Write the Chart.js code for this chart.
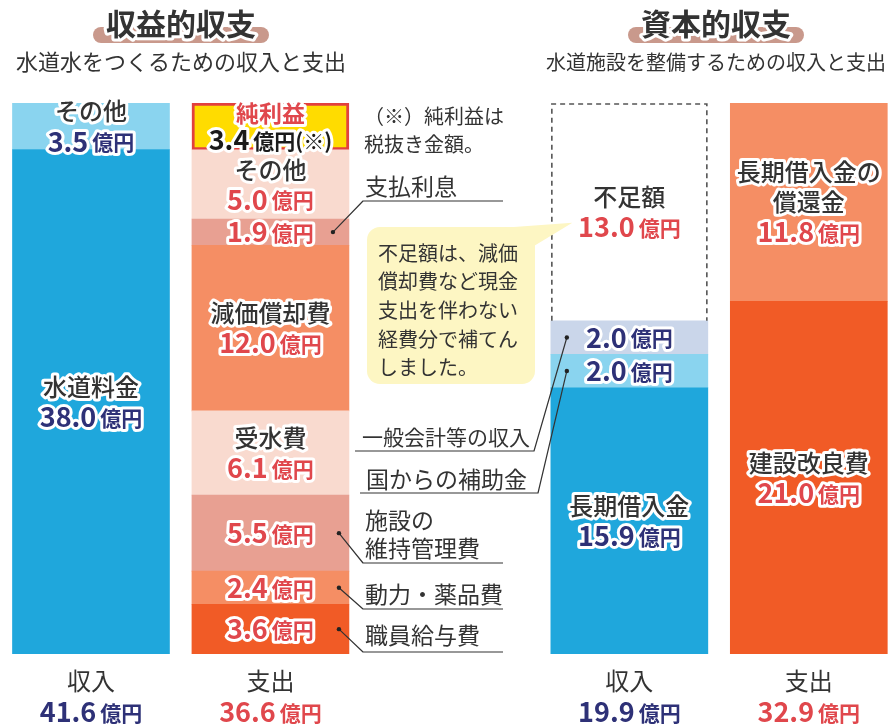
<!DOCTYPE html>
<html lang="ja">
<head>
<meta charset="utf-8">
<title>収益的収支・資本的収支</title>
<script src="https://cdn.jsdelivr.net/npm/chart.js"></script>
<style>
  html, body { margin: 0; padding: 0; background: #fff; }
  #wrap { width: 890px; height: 727px; position: relative; }
</style>
</head>
<body>
<div id="wrap"><canvas id="chart"></canvas></div>
<script>
// bars: 収益的収入, 収益的支出, (gap), 資本的収入, 資本的支出
const barPositions = [0, 1, 3, 4]
const barLabels = ['収入', '支出', '収入', '支出']
const barTotals = ['41.6', '36.6', '19.9', '32.9']

// segments, bottom to top (億円)
const rev_in_names = ['水道料金', 'その他']
const rev_in_values = [38.0, 3.5]
const rev_out_names = ['職員給与費', '動力・薬品費', '施設の維持管理費', '受水費', '減価償却費', '支払利息', 'その他', '純利益']
const rev_out_values = [3.6, 2.4, 5.5, 6.1, 12.0, 1.9, 5.0, 3.4]
const cap_in_names = ['長期借入金', '国からの補助金', '一般会計等の収入', '不足額']
const cap_in_values = [15.9, 2.0, 2.0, 13.0]
const cap_out_names = ['建設改良費', '長期借入金の償還金']
const cap_out_values = [21.0, 11.8]

// names written inside the segments (others get a leader line)
const rev_in_inside = [['水道料金'], ['その他']]
const rev_out_inside = [[], [], [], ['受水費'], ['減価償却費'], [], ['その他'], ['純利益']]
const cap_in_inside = [['長期借入金'], [], [], ['不足額']]
const cap_out_inside = [['建設改良費'], ['長期借入金の', '償還金']]

const BLUE = '#1fa7dc'
const LIGHTBLUE = '#8ad4ef'
const PALEBLUE = '#cad6ea'
const DEEPORANGE = '#f15b26'
const ORANGE = '#f58e64'
const PINK = '#e8a092'
const PALEPINK = '#f9dacf'
const YELLOW = '#ffdc00'
const NAVY = '#2e3177'
const RED = '#e0474c'
const DARK = '#333333'
const FONT = '"Noto Sans CJK JP", "Noto Sans", sans-serif'

const rev_in_colors = [BLUE, LIGHTBLUE]
const rev_out_colors = [DEEPORANGE, ORANGE, PINK, PALEPINK, ORANGE, PINK, PALEPINK, YELLOW]
const cap_in_colors = [BLUE, LIGHTBLUE, PALEBLUE, 'rgba(255,255,255,0)']
const cap_out_colors = [DEEPORANGE, ORANGE]

const sections = [
  { names: rev_in_names, values: rev_in_values, colors: rev_in_colors, inside: rev_in_inside, valueColor: NAVY },
  { names: rev_out_names, values: rev_out_values, colors: rev_out_colors, inside: rev_out_inside, valueColor: RED },
  { names: cap_in_names, values: cap_in_values, colors: cap_in_colors, inside: cap_in_inside, valueColor: NAVY },
  { names: cap_out_names, values: cap_out_values, colors: cap_out_colors, inside: cap_out_inside, valueColor: RED }
]

// every bar is drawn as share of its own column (the columns are equally tall)
const datasets = []
sections.forEach((s, b) => {
  const sum = s.values.reduce((a, v) => a + v, 0)
  s.values.forEach((v, i) => {
    const profit = s.names[i] === '純利益'
    datasets.push({
      label: s.names[i],
      data: [{ x: barPositions[b], y: v / sum * 100 }],
      backgroundColor: s.colors[i],
      borderColor: profit ? '#e2403e' : 'rgba(0,0,0,0)',
      borderWidth: profit ? 3 : 0,
      borderSkipped: false,
      stack: 'all',
      amount: v,
      bar: b,
      seg: i
    })
  })
})

function outlined (ctx, text, x, y, font, color, align, stroke) {
  ctx.font = font
  ctx.textAlign = align || 'center'
  ctx.textBaseline = 'middle'
  if (stroke !== false) {
    ctx.lineJoin = 'round'
    ctx.lineWidth = 6
    ctx.strokeStyle = '#fff'
    ctx.strokeText(text, x, y)
  }
  ctx.fillStyle = color
  ctx.fillText(text, x, y)
}

function drawAmount (ctx, num, x, y, color, suffix, stroke) {
  suffix = suffix || '億円'
  const f1 = 'bold 27px ' + FONT
  const f2 = 'bold 21px ' + FONT
  ctx.font = f1
  const w1 = ctx.measureText(num).width
  ctx.font = f2
  const w2 = ctx.measureText(suffix).width
  const gap = 4
  const sx = x - (w1 + gap + w2) / 2
  outlined(ctx, num, sx, y, f1, color, 'left', stroke)
  outlined(ctx, suffix, sx + w1 + gap, y + 1, f2, color, 'left', stroke)
}

function line (ctx, pts) {
  ctx.beginPath()
  ctx.moveTo(pts[0][0], pts[0][1])
  for (let i = 1; i < pts.length; i++) ctx.lineTo(pts[i][0], pts[i][1])
  ctx.stroke()
}

function dot (ctx, x, y) {
  ctx.beginPath()
  ctx.arc(x, y, 2.2, 0, Math.PI * 2)
  ctx.fillStyle = '#222'
  ctx.fill()
}

const annotate = {
  id: 'annotate',
  afterDatasetsDraw (chart) {
    const ctx = chart.ctx
    const xs = chart.scales.x
    const seg = (b, name) => {
      const i = chart.data.datasets.findIndex(d => d.bar === b && d.label === name)
      return chart.getDatasetMeta(i).data[0]
    }
    ctx.save()

    // dashed outline for the shortfall
    const gapEl = seg(2, '不足額')
    const gl = gapEl.x - gapEl.width / 2 + 1
    const gr = gapEl.x + gapEl.width / 2 - 1
    ctx.setLineDash([5, 4])
    ctx.strokeStyle = '#555'
    ctx.lineWidth = 1.6
    line(ctx, [[gl, gapEl.base], [gl, gapEl.y + 1], [gr, gapEl.y + 1], [gr, gapEl.base]])
    ctx.setLineDash([])

    // labels inside the segments
    chart.data.datasets.forEach((ds, di) => {
      const el = chart.getDatasetMeta(di).data[0]
      const s = sections[ds.bar]
      const names = s.inside[ds.seg]
      const profit = ds.label === '純利益'
      const lh = profit ? 27 : 30
      const n = names.length + 1
      const cy = (el.y + el.base) / 2
      let y = cy - (n - 1) * lh / 2
      names.forEach(t => {
        if (profit) outlined(ctx, t, el.x, y, 'bold 23px ' + FONT, RED)
        else outlined(ctx, t, el.x, y, '500 24px ' + FONT, DARK)
        y += lh
      })
      let col = s.valueColor
      if (profit) col = '#1a1a1a'
      if (ds.label === '不足額') col = RED
      drawAmount(ctx, ds.amount.toFixed(1), el.x, y, col, profit ? '億円(※)' : '億円', ds.label !== '不足額')
    })

    ctx.strokeStyle = '#333'
    ctx.lineWidth = 1.2
    const note = (t, x, y, size) => outlined(ctx, t, x, y, '400 ' + (size || 23) + 'px ' + FONT, DARK, 'left', false)

    // leaders on the expense side of 収益的収支
    const leftLeaders = [
      { name: '支払利息', lines: ['支払利息'], ty: 186, uy: 201, dx: -16 },
      { name: '施設の維持管理費', lines: ['施設の', '維持管理費'], ty: 520, uy: 563, dx: -10 },
      { name: '動力・薬品費', lines: ['動力・薬品費'], ty: 594, uy: 609, dx: -10 },
      { name: '職員給与費', lines: ['職員給与費'], ty: 635, uy: 652, dx: -10 }
    ]
    leftLeaders.forEach(o => {
      const el = seg(1, o.name)
      o.lines.forEach((t, k) => note(t, 365, o.ty + k * 28))
      const dxp = el.x + el.width / 2 + o.dx
      const dyp = (el.y + el.base) / 2
      line(ctx, [[503, o.uy], [363, o.uy], [dxp, dyp]])
      dot(ctx, dxp, dyp)
    })

    // leaders for the capital income
    const rightLeaders = [
      { name: '一般会計等の収入', tx: 362, ty: 437, ux0: 355, ux1: 534, uy: 451, size: 21 },
      { name: '国からの補助金', tx: 366, ty: 479, ux0: 360, ux1: 538, uy: 493, size: 23 }
    ]
    rightLeaders.forEach(o => {
      const el = seg(2, o.name)
      note(o.name, o.tx, o.ty, o.size)
      const dxp = el.x - el.width / 2 + 16
      const dyp = (el.y + el.base) / 2
      line(ctx, [[o.ux0, o.uy], [o.ux1, o.uy], [dxp, dyp]])
      dot(ctx, dxp, dyp)
    })

    note('（※）純利益は', 364, 116, 20)
    note('税抜き金額。', 364, 144, 20)

    // speech bubble
    const gapValY = (gapEl.y + gapEl.base) / 2 + 15
    ctx.fillStyle = '#fdf6c3'
    ctx.beginPath()
    ctx.roundRect(367, 227, 168, 157, 13)
    ctx.fill()
    ctx.beginPath()
    ctx.moveTo(500, 228)
    ctx.lineTo(gapEl.x - 57, gapValY - 4)
    ctx.lineTo(534, 246)
    ctx.closePath()
    ctx.fill()
    const bubble = ['不足額は、減価', '償却費など現金', '支出を伴わない', '経費分で補てん', 'しました。']
    bubble.forEach((t, k) => note(t, 378, 253 + k * 28.7, 20))

    // column captions
    barPositions.forEach((p, b) => {
      const x = xs.getPixelForValue(p)
      outlined(ctx, barLabels[b], x, 681, '400 24px ' + FONT, DARK, 'center', false)
      drawAmount(ctx, barTotals[b], x, 712, b % 2 === 0 ? NAVY : RED, '億円', false)
    })

    // section titles
    const titles = [
      { t: '収益的収支', sub: '水道水をつくるための収入と支出', x: 181, size: 22 },
      { t: '資本的収支', sub: '水道施設を整備するための収入と支出', x: 716, size: 20 }
    ]
    titles.forEach(o => {
      ctx.fillStyle = '#c9998c'
      ctx.beginPath()
      ctx.roundRect(o.x - 88, 27, 176, 16, 8)
      ctx.fill()
      outlined(ctx, o.t, o.x, 24, 'bold 30px ' + FONT, DARK)
      outlined(ctx, o.sub, o.x, 62, '400 ' + o.size + 'px ' + FONT, DARK, 'center', false)
    })

    ctx.restore()
  }
}

const chart = new Chart(document.getElementById('chart').getContext('2d'), {
  type: 'bar',
  data: { datasets: datasets },
  options: {
    responsive: true,
    maintainAspectRatio: false,
    animation: false,
    layout: { padding: { top: 103, bottom: 73, left: 0, right: 0 } },
    datasets: { bar: { barThickness: 157 } },
    scales: {
      x: { type: 'linear', stacked: true, display: false, offset: false, min: -0.507, max: 4.4525 },
      y: { stacked: true, display: false, min: 0, max: 100 }
    },
    plugins: {
      legend: { display: false },
      tooltip: { enabled: false }
    }
  },
  plugins: [annotate]
})
</script>
</body>
</html>
